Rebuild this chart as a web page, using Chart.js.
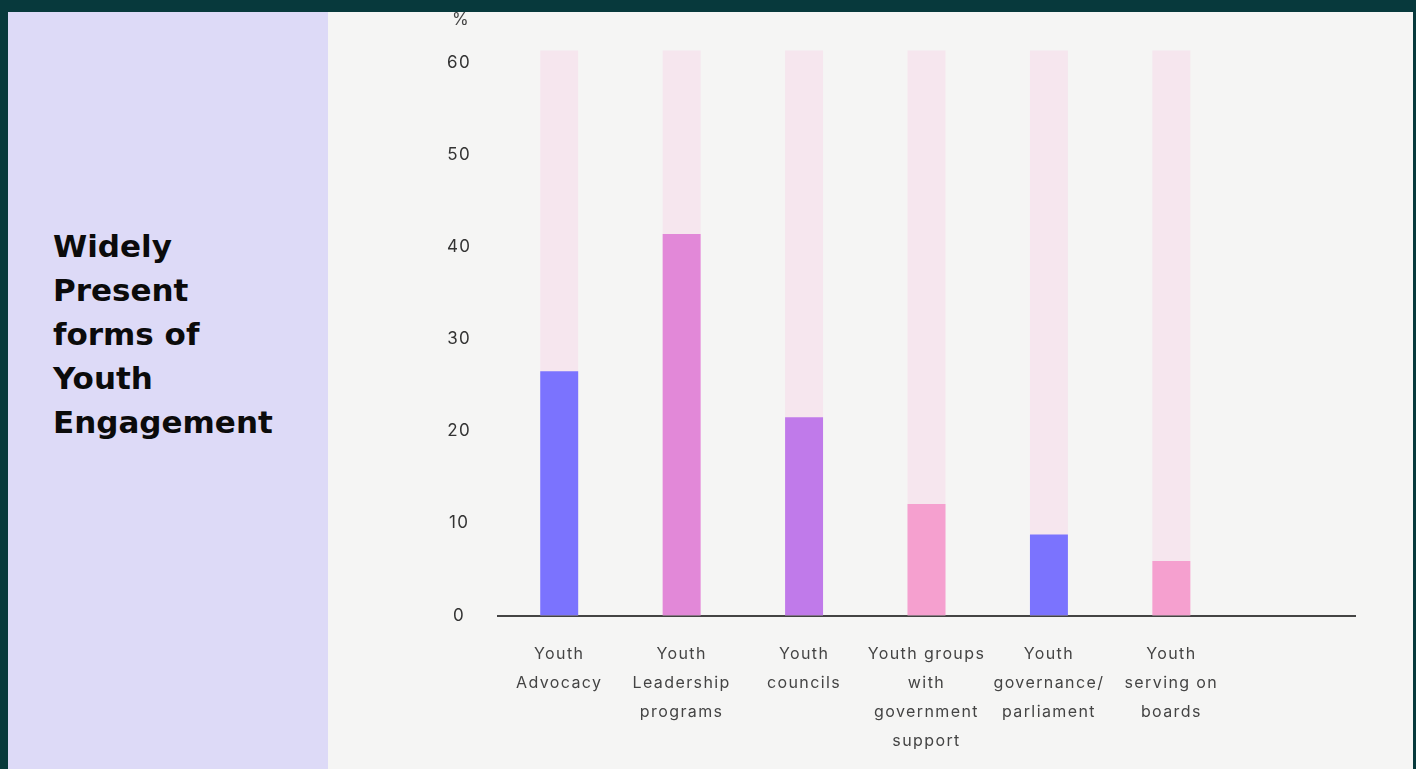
<!DOCTYPE html>
<html>
<head>
<meta charset="utf-8">
<script src="https://cdn.jsdelivr.net/npm/chart.js@4.4.1/dist/chart.umd.min.js"></script>
<style>
  html, body { margin: 0; padding: 0; }
  body { width: 1416px; height: 769px; background: #07393c; overflow: hidden; position: relative; }
  #painel_esq { position: absolute; left: 8px; top: 12px; width: 320px; height: 757px; background: #dddaf7; }
  #titulo { position: absolute; left: 45px; top: 212px; margin: 0; font: bold 31px 'DejaVu Sans', sans-serif; line-height: 44px; color: #0b0b0b; }
  #painel_dir { position: absolute; left: 328px; top: 12px; width: 1085px; height: 757px; background: #f5f5f4; }
  #unidade { position: absolute; left: 124px; top: -3px; font: 17px 'Inter', sans-serif; color: #444; }
  #grafico { position: absolute; left: 0; top: 0; }
</style>
</head>
<body>
<div id="painel_esq">
  <h1 id="titulo">Widely<br>Present<br>forms of<br>Youth<br>Engagement</h1>
</div>
<div id="painel_dir">
  <canvas id="grafico" width="1085" height="757"></canvas>
  <div id="unidade">%</div>
</div>
<script>
// --- Dados ---
const categorias = [
  ['Youth', 'Advocacy'],
  ['Youth', 'Leadership', 'programs'],
  ['Youth', 'councils'],
  ['Youth groups', 'with', 'government', 'support'],
  ['Youth', 'governance/', 'parliament'],
  ['Youth', 'serving on', 'boards'],
  '' // coluna vazia no fim do eixo
];
const percentagens = [26.5, 41.4, 21.5, 12.1, 8.8, 5.9, null];
const fundo = [61.3, 61.3, 61.3, 61.3, 61.3, 61.3, null];
const coresBarras = ['#7b73fe', '#e288d8', '#c07aea', '#f5a0cf', '#7b73fe', '#f5a0cf', '#f5a0cf'];
const ticksY = [0, 10, 20, 30, 40, 50, 60];

Chart.defaults.font.family = "'Inter', sans-serif";

// Espaçamento entre letras nos textos do canvas
const espacamento = {
  id: 'espacamento',
  beforeDraw(chart) { chart.ctx.letterSpacing = '1.4px'; },
  afterDraw(chart) { chart.ctx.letterSpacing = '0px'; }
};

new Chart(document.getElementById('grafico'), {
  type: 'bar',
  data: {
    labels: categorias,
    datasets: [
      { data: percentagens, backgroundColor: coresBarras, order: 1 },
      { data: fundo, backgroundColor: '#f6e6ee', order: 2 }
    ]
  },
  options: {
    responsive: false,
    animation: false,
    events: [],
    grouped: false,
    barPercentage: 0.31,
    categoryPercentage: 1,
    layout: { padding: { left: 0, right: 58, top: 32, bottom: 0 } },
    plugins: { legend: { display: false }, tooltip: { enabled: false } },
    scales: {
      x: {
        grid: { display: false, drawTicks: false },
        border: { display: true, color: '#444', width: 2 },
        afterFit: (eixo) => { eixo.height = 153.5; },
        ticks: {
          color: '#444',
          font: { size: 16, lineHeight: 1.8125 },
          padding: 24,
          maxRotation: 0,
          autoSkip: false
        }
      },
      y: {
        min: 0,
        max: 62,
        grid: { display: false, drawTicks: false },
        border: { display: false },
        afterBuildTicks: (eixo) => { eixo.ticks = ticksY.map(v => ({ value: v })); },
        afterFit: (eixo) => {
          eixo.width = 170;
          eixo.paddingTop = 0;
          eixo.paddingBottom = 0;
        },
        ticks: {
          color: '#333',
          font: { size: 17 },
          padding: 28,
          crossAlign: 'center'
        }
      }
    }
  },
  plugins: [espacamento]
});
</script>
</body>
</html>
